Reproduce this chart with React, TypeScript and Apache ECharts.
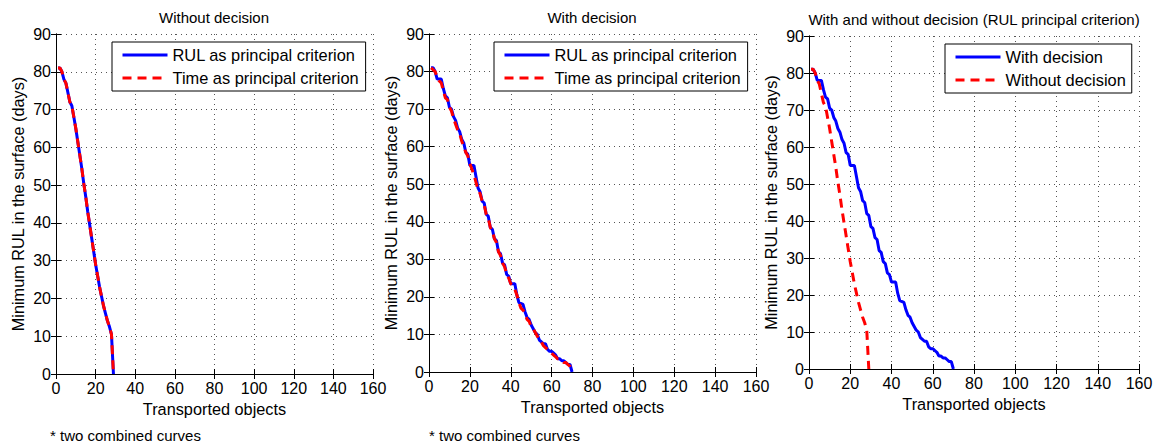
import React, { useEffect, useRef } from "react";
import * as echarts from "echarts";

const FONT = '"Liberation Sans", Arial, Helvetica, sans-serif';

const panelTitles = [
  "Without decision",
  "With decision",
  "With and without decision (RUL principal criterion)",
];
const xAxisName = "Transported objects";
const yAxisName = "Minimum RUL in the surface (days)";
const footnote = "* two combined curves";

const xMin = 0;
const xMax = 160;
const xStep = 20;
const yMin = 0;
const yMax = 90;
const yStep = 10;

// Without decision (both criteria give the same curve)
const noDecObjects = [
  1, 2, 3, 4, 5, 6, 7, 8, 9, 10, 11, 12, 13, 14, 15, 16, 17, 18, 19, 20, 21, 22,
  23, 24, 25, 26, 27, 28, 29,
];
const noDecRulCriterion = [
  81, 81, 80, 78, 77, 74.5, 72, 71, 68, 65, 61.5, 58, 54.5, 50.5, 47, 43, 39.5,
  36, 32.5, 29, 26, 23, 20.5, 18, 16, 14, 12.5, 10.5, 0,
];
const noDecTimeCriterion = [
  81, 81, 80, 78, 77, 74.5, 72, 71, 68, 65, 61.5, 58, 54.5, 50.5, 47, 43, 39.5,
  36, 32.5, 29, 26, 23, 20.5, 18, 16, 14, 12.5, 10.5, 0,
];

// With decision, RUL as principal criterion
const decRulObjects = [
  1, 2, 3, 4, 6, 7, 8, 9, 10, 11, 12, 13, 14, 15, 16, 17, 18, 19, 20, 22, 23, 24,
  25, 26, 27, 28, 29, 30, 31, 32, 33, 34, 35, 36, 37, 38, 39, 40, 42, 43, 44, 46,
  47, 48, 49, 50, 51, 52, 53, 54, 55, 56, 57, 58, 59, 60, 61, 62, 63, 64, 65, 66,
  67, 68, 69, 70,
];
const decRulValues = [
  81, 81, 80, 78, 78, 75.5, 73.5, 73, 70.5, 70, 68, 67, 65, 64, 62, 61, 58.5, 58,
  55, 55, 52, 49, 48, 45.5, 45, 42, 41.5, 38.5, 38, 35.5, 35, 32, 31.5, 29, 28.5,
  26, 25.5, 23.5, 23.5, 20.5, 18.5, 18, 16, 14.5, 14, 12.5, 11.5, 10.5, 10, 8.5,
  8, 7.5, 7.5, 6, 5.5, 5.5, 5, 4.5, 3.5, 3.5, 3, 3, 2.5, 2, 2, 0,
];

// With decision, time as principal criterion
const decTimeObjects = [
  1, 2, 3, 4, 5, 6, 7, 8, 9, 10, 11, 12, 13, 14, 15, 16, 17, 18, 19, 20, 21, 22,
  23, 24, 25, 26, 27, 28, 29, 30, 31, 32, 33, 34, 35, 36, 37, 38, 39, 40, 41, 42,
  43, 44, 45, 46, 47, 48, 49, 50, 51, 52, 53, 54, 55, 56, 57, 58, 59, 60, 61, 62,
  63, 64, 65, 66, 67, 68, 69, 70,
];
const decTimeValues = [
  81, 80.5, 80, 78.5, 77.5, 77, 75, 73, 72.5, 70.5, 69.5, 67.5, 66, 64.5, 63.5,
  61.5, 60, 58.5, 57.5, 55.5, 54, 52.5, 50.5, 48.5, 47.5, 45.5, 44.5, 42, 41,
  38.5, 37.5, 35.5, 34.5, 32, 31, 29, 28, 26, 25, 23.5, 23, 22, 20.5, 18.5, 17,
  16.5, 15.5, 14, 13.5, 12, 11.5, 10.5, 9.5, 8.5, 8, 7, 6.5, 6, 5.5, 5, 4.5, 4,
  3.5, 3.5, 3, 2.5, 2.5, 2, 1.5, 0,
];

const legendNames12 = ["RUL as principal criterion", "Time as principal criterion"];
const legendNames3 = ["With decision", "Without decision"];

const zip = (xs: number[], ys: number[]) => xs.map((x, i) => [x, ys[i]]);

const BLUE = "#0000ff";
const RED = "#ff0000";

const grids = [
  { left: 56, top: 34, width: 317, height: 340 },
  { left: 429, top: 34, width: 327, height: 338 },
  { left: 809, top: 36, width: 330, height: 333 },
];
const titlePos = [
  { x: 214, y: 17 },
  { x: 592, y: 17 },
  { x: 974, y: 19 },
];
const legendPos = [
  { left: 112, top: 42 },
  { left: 494, top: 42 },
  { left: 945, top: 44 },
];

export default function App() {
  const ref = useRef<HTMLDivElement>(null);
  useEffect(() => {
    if (!ref.current) return;
    const chart = echarts.init(ref.current, undefined, { renderer: "svg" });

    const tickStyle = { show: true, inside: true, length: 5, lineStyle: { color: "#000", width: 1 } };
    const axisLine = { show: true, lineStyle: { color: "#000", width: 1 } };

    const xAxes: any[] = [];
    const yAxes: any[] = [];
    grids.forEach((_, i) => {
      xAxes.push({
        type: "value",
        gridIndex: i,
        position: "bottom",
        min: xMin,
        max: xMax,
        interval: xStep,
        axisLine,
        axisTick: tickStyle,
        axisLabel: { color: "#000", fontSize: 16, fontFamily: FONT, margin: 6 },
        splitLine: { show: true, lineStyle: { color: "#555", width: 1, type: [1, 4] } },
        name: xAxisName,
        nameLocation: "middle",
        nameGap: 25,
        nameTextStyle: { color: "#000", fontSize: 16.3, fontFamily: FONT },
      });
      yAxes.push({
        type: "value",
        gridIndex: i,
        position: "left",
        min: yMin,
        max: yMax,
        interval: yStep,
        axisLine,
        axisTick: tickStyle,
        axisLabel: { color: "#000", fontSize: 16, fontFamily: FONT, margin: 5 },
        splitLine: { show: true, lineStyle: { color: "#555", width: 1, type: [1, 4] } },
        name: yAxisName,
        nameLocation: "middle",
        nameGap: 30,
        nameTextStyle: { color: "#000", fontSize: 16.3, fontFamily: FONT },
      });
    });
    grids.forEach((_, i) => {
      xAxes.push({
        type: "value",
        gridIndex: i,
        position: "top",
        min: xMin,
        max: xMax,
        interval: xStep,
        axisLine,
        axisTick: tickStyle,
        axisLabel: { show: false },
        splitLine: { show: false },
      });
      yAxes.push({
        type: "value",
        gridIndex: i,
        position: "right",
        min: yMin,
        max: yMax,
        interval: yStep,
        axisLine,
        axisTick: tickStyle,
        axisLabel: { show: false },
        splitLine: { show: false },
      });
    });

    const solid = (name: string, grid: number, data: number[][], color: string) => ({
      type: "line",
      name,
      xAxisIndex: grid,
      yAxisIndex: grid,
      data,
      symbol: "none",
      lineStyle: { color, width: 3, type: "solid" },
      itemStyle: { color },
    });
    const dashed = (name: string, grid: number, data: number[][], color: string) => ({
      type: "line",
      name,
      xAxisIndex: grid,
      yAxisIndex: grid,
      data,
      symbol: "none",
      lineStyle: { color, width: 3, type: [9, 6] },
      itemStyle: { color },
    });

    const series = [
      solid(legendNames12[0], 0, zip(noDecObjects, noDecRulCriterion), BLUE),
      dashed(legendNames12[1], 0, zip(noDecObjects, noDecTimeCriterion), RED),
      solid(legendNames12[0], 1, zip(decRulObjects, decRulValues), BLUE),
      dashed(legendNames12[1], 1, zip(decTimeObjects, decTimeValues), RED),
      solid(legendNames3[0], 2, zip(decRulObjects, decRulValues), BLUE),
      dashed(legendNames3[1], 2, zip(noDecObjects, noDecRulCriterion), RED),
    ];

    const legendBase = {
      orient: "vertical",
      backgroundColor: "#fff",
      borderColor: "#000",
      borderWidth: 1,
      borderRadius: 0,
      itemWidth: 45,
      itemHeight: 14,
      itemGap: 7,
      selectedMode: false,
      itemStyle: { opacity: 0 },
      lineStyle: { width: 3 },
      textStyle: { color: "#000", fontSize: 16.4, fontFamily: FONT },
    };

    const option: any = {
      animation: false,
      backgroundColor: "#fff",
      textStyle: { fontFamily: FONT },
      title: panelTitles.map((t, i) => ({
        text: t,
        left: titlePos[i].x,
        top: titlePos[i].y,
        textAlign: "center",
        textVerticalAlign: "middle",
        padding: 0,
        textStyle: { color: "#000", fontSize: 15, fontWeight: "normal", fontFamily: FONT },
      })),
      legend: [
        { ...legendBase, left: legendPos[0].left, top: legendPos[0].top, padding: [5, 7, 5, 9], data: legendNames12 },
        { ...legendBase, left: legendPos[1].left, top: legendPos[1].top, padding: [5, 7, 5, 9], data: legendNames12 },
        { ...legendBase, left: legendPos[2].left, top: legendPos[2].top, padding: [5, 6, 5, 9], data: legendNames3 },
      ],
      grid: grids.map((g) => ({ ...g, containLabel: false, show: false })),
      xAxis: xAxes,
      yAxis: yAxes,
      series,
      graphic: [
        {
          type: "text",
          x: 50,
          y: 435,
          style: { text: footnote, fill: "#000", fontSize: 15, fontFamily: FONT, verticalAlign: "middle" },
        },
        {
          type: "text",
          x: 429,
          y: 435,
          style: { text: footnote, fill: "#000", fontSize: 15, fontFamily: FONT, verticalAlign: "middle" },
        },
      ],
    };

    chart.setOption(option);
    return () => chart.dispose();
  }, []);

  return (
    <div
      ref={ref}
      style={{ position: "absolute", left: 0, top: 0, width: 1157, height: 446, background: "#fff" }}
    />
  );
}
